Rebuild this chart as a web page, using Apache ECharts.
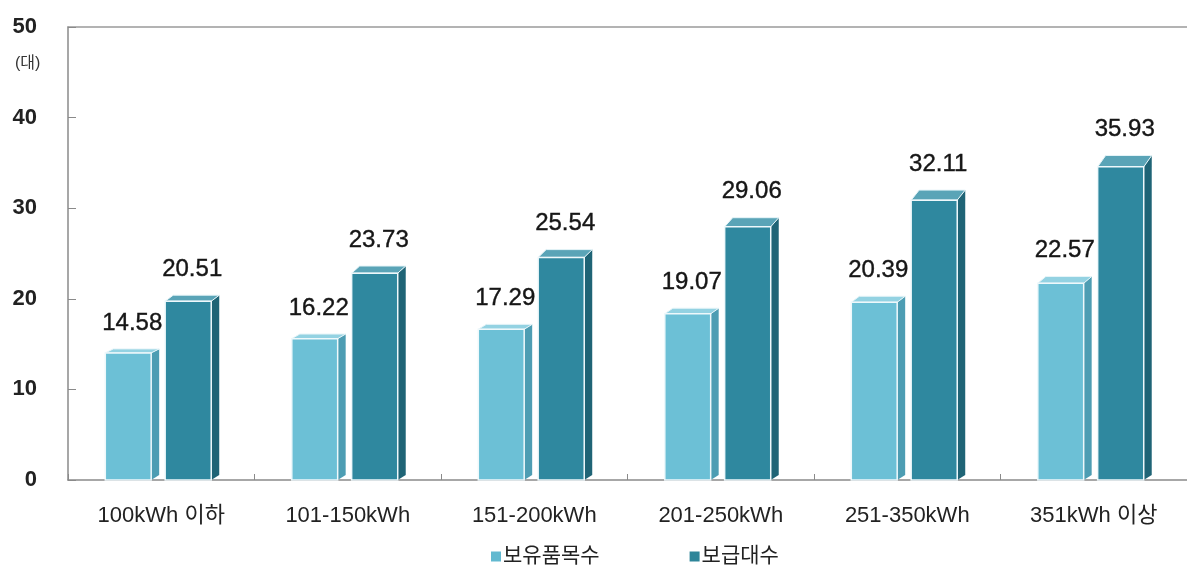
<!DOCTYPE html>
<html>
<head>
<meta charset="utf-8">
<script src="https://cdn.jsdelivr.net/npm/echarts@6/dist/echarts.min.js"></script>
<style>
  html, body { margin: 0; padding: 0; background: #fff; }
  #chart { width: 1187px; height: 567px; }
</style>
</head>
<body>
<div id="chart"></div>
<script>
const categories = ['100kWh 이하', '101-150kWh', '151-200kWh', '201-250kWh', '251-350kWh', '351kWh 이상']
const ownedItems = [14.58, 16.22, 17.29, 19.07, 20.39, 22.57]   // 보유품목수
const supplied = [20.51, 23.73, 25.54, 29.06, 32.11, 35.93]     // 보급대수
const yTicks = { min: 0, max: 50, interval: 10 }

const FONT = '"Liberation Sans", Arial, "Noto Sans CJK KR", sans-serif'
const DEPTH_X = 8

// pseudo 3D bar: front face, side face, top face (slight perspective) + value label
function bar3d(offL, offR, colors) {
  return function (params, api) {
    const idx = api.value(0), val = api.value(1)
    const bw = api.size([1, 0])[0]
    const c = api.coord([idx, 0])[0]
    const y0 = api.coord([idx, 0])[1]
    const yv = api.coord([idx, val])[1]
    const x1 = c + offL * bw, x2 = c + offR * bw
    const yBack = yv + 1
    const yTop = y0 - (y0 - yv) * 0.962
    return {
      type: 'group',
      children: [
        { type: 'polygon', shape: { points: [[x2, yTop], [x2 + DEPTH_X, yBack], [x2 + DEPTH_X, y0 - 5], [x2, y0]] },
          style: { fill: colors.side } },
        { type: 'polygon', shape: { points: [[x1, yTop], [x1 + DEPTH_X, yBack], [x2 + DEPTH_X, yBack], [x2, yTop]] },
          style: { fill: colors.top, stroke: '#e6f4f8', lineWidth: 1 } },
        { type: 'rect', shape: { x: x1, y: yTop, width: x2 - x1, height: y0 - yTop },
          style: { fill: colors.front, stroke: '#eef8fb', lineWidth: 1.5 } },
        { type: 'text', x: (x1 + x2 + DEPTH_X) / 2, y: yv - 25,
          style: { text: val.toFixed(2), fill: '#161616', font: '24px ' + FONT, align: 'center', verticalAlign: 'middle',
            stroke: '#161616', lineWidth: 0.4 } }
      ]
    }
  }
}

const chart = echarts.init(document.getElementById('chart'))
chart.setOption({
  animation: false,
  backgroundColor: '#fff',
  textStyle: { fontFamily: FONT },
  title: { text: '(대)', left: 10, top: 51, textStyle: { fontSize: 16, fontWeight: 'normal', color: '#333', fontFamily: FONT } },
  legend: {
    left: 486, top: 541, itemWidth: 10, itemHeight: 10, itemGap: 90, icon: 'rect',
    textStyle: { fontSize: 21, color: '#222', fontFamily: FONT, padding: [0, 0, 0, -3] },
    data: ['보유품목수', '보급대수']
  },
  grid: { left: 68, right: 0, top: 27, bottom: 87 },
  xAxis: [
    { type: 'category', data: categories, position: 'bottom',
      axisLine: { lineStyle: { color: '#8a8a8a', width: 1.5 } },
      axisTick: { show: true, inside: true, length: 6, lineStyle: { color: '#8a8a8a' } },
      axisLabel: { fontSize: 22, color: '#222', margin: 25, fontFamily: FONT } },
    { type: 'category', data: categories, position: 'top',
      axisLine: { lineStyle: { color: '#9a9a9a', width: 1.5 } },
      axisTick: { show: false }, axisLabel: { show: false } }
  ],
  yAxis: {
    type: 'value', min: yTicks.min, max: yTicks.max, interval: yTicks.interval,
    axisLine: { show: true, lineStyle: { color: '#8a8a8a', width: 1.5 } },
    axisTick: { show: true, inside: true, length: 8, lineStyle: { color: '#8a8a8a' } },
    axisLabel: { fontSize: 22, fontWeight: 'bold', color: '#222', margin: 31, fontFamily: FONT },
    splitLine: { show: false }
  },
  series: [
    { name: '보유품목수', type: 'custom', itemStyle: { color: '#62b9d0' },
      renderItem: bar3d(-0.300, -0.054, { front: '#6cc0d6', side: '#4d9db3', top: '#93d2e2' }),
      encode: { x: 0, y: 1 }, data: ownedItems.map((v, i) => [i, v]) },
    { name: '보급대수', type: 'custom', itemStyle: { color: '#2e8599' },
      renderItem: bar3d(0.021, 0.268, { front: '#2f889f', side: '#1f6476', top: '#5aa4b7' }),
      encode: { x: 0, y: 1 }, data: supplied.map((v, i) => [i, v]) }
  ]
})
</script>
</body>
</html>
